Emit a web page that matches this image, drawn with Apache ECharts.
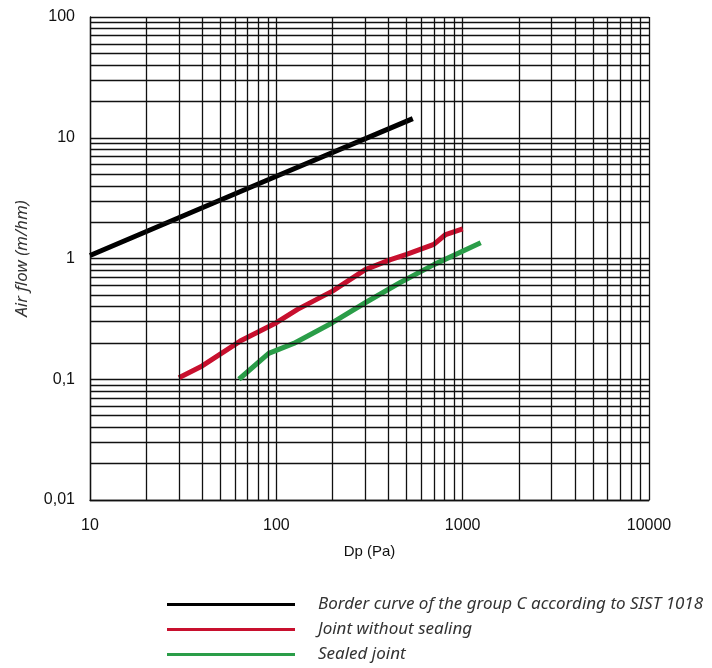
<!DOCTYPE html>
<html>
<head>
<meta charset="utf-8">
<script src="https://cdn.jsdelivr.net/npm/echarts@6/dist/echarts.min.js"></script>
<style>
    html, body { margin: 0; padding: 0; background: #fff; }
    #chart { width: 712px; height: 668px; }
</style>
</head>
<body>
<div id="chart"></div>
<script>
    // series data: [pressure difference (Pa), air flow]
    const borderCurve = [[10, 1.06], [100, 4.8], [540, 14.4]]
    const jointNoSeal = [[30, 0.103], [40, 0.129], [64, 0.207], [100, 0.294], [130, 0.379], [200, 0.537], [300, 0.81], [410, 0.98], [500, 1.08], [700, 1.31], [810, 1.58], [1000, 1.76]]
    const sealedJoint = [[63, 0.1], [91, 0.164], [124, 0.198], [200, 0.294], [300, 0.43], [460, 0.63], [700, 0.89], [1250, 1.35]]
    const seriesNames = ['Border curve of the group C according to SIST 1018', 'Joint without sealing', 'Sealed joint']
    // minor grid values between decades
    const xMinorGrid = [20, 30, 40, 50, 60, 70, 80, 90, 200, 300, 400, 500, 600, 700, 800, 900, 2000, 3000, 4000, 5000, 6000, 7000, 8000, 9000]
    const yMinorGrid = [0.02, 0.03, 0.04, 0.05, 0.06, 0.07, 0.08, 0.09, 0.2, 0.3, 0.4, 0.5, 0.6, 0.7, 0.8, 0.9, 2, 3, 4, 5, 6, 7, 8, 9, 20, 30, 40, 50, 60, 70, 80, 90]

    let gridStyle = { color: '#111', width: 1.3, type: 'solid' }
    let axisFont = { fontFamily: 'Liberation Sans', fontSize: 16, color: '#111' }

    let minorLines = []
    xMinorGrid.forEach(v => minorLines.push({ xAxis: v }))
    yMinorGrid.forEach(v => minorLines.push({ yAxis: v }))

    let myChart = echarts.init(document.getElementById('chart'))
    let option = {
        animation: false,
        grid: { left: 90, right: 63, top: 17, bottom: 168 },
        xAxis: {
            type: 'log',
            logBase: 10,
            min: 10,
            max: 10000,
            name: 'Dp (Pa)',
            nameLocation: 'middle',
            nameGap: 44,
            nameTextStyle: { fontFamily: 'Liberation Sans', fontSize: 15, color: '#111' },
            axisLine: { lineStyle: gridStyle },
            axisTick: { show: false },
            axisLabel: Object.assign({
                margin: 18,
                formatter: function (value) {
                    return String(value)
                }
            }, axisFont),
            splitLine: { show: true, lineStyle: gridStyle }
        },
        yAxis: {
            type: 'log',
            logBase: 10,
            min: 0.01,
            max: 100,
            name: 'Air flow (m/hm)',
            nameLocation: 'middle',
            nameGap: 59,
            nameTextStyle: { fontFamily: 'Noto Sans', fontStyle: 'italic', fontSize: 17, color: '#333' },
            axisLine: { show: true, lineStyle: gridStyle },
            axisTick: { show: false },
            axisLabel: Object.assign({
                margin: 15,
                formatter: function (value) {
                    return String(value).replace('.', ',')
                }
            }, axisFont),
            splitLine: { show: true, lineStyle: gridStyle }
        },
        legend: {
            orient: 'vertical',
            left: 167,
            top: 592,
            height: 80,
            padding: 0,
            icon: 'rect',
            itemWidth: 128,
            itemHeight: 3,
            itemGap: 0,
            data: seriesNames,
            textStyle: {
                fontFamily: 'Noto Sans',
                fontStyle: 'italic',
                fontSize: 17,
                lineHeight: 25,
                color: '#333',
                padding: [0, 0, 0, 18]
            }
        },
        series: [
            {
                name: 'grid',
                type: 'line',
                data: [],
                silent: true,
                markLine: {
                    silent: true,
                    symbol: ['none', 'none'],
                    label: { show: false },
                    lineStyle: gridStyle,
                    data: minorLines
                }
            },
            {
                name: seriesNames[0],
                type: 'line',
                showSymbol: false,
                symbol: 'none',
                color: '#000000',
                lineStyle: { width: 5, color: '#000000' },
                data: borderCurve
            },
            {
                name: seriesNames[1],
                type: 'line',
                showSymbol: false,
                symbol: 'none',
                color: '#c8102e',
                lineStyle: { width: 5, color: '#c8102e' },
                data: jointNoSeal
            },
            {
                name: seriesNames[2],
                type: 'line',
                showSymbol: false,
                symbol: 'none',
                color: '#2a9d48',
                lineStyle: { width: 5, color: '#2a9d48' },
                data: sealedJoint
            }
        ]
    }
    myChart.setOption(option)
</script>
</body>
</html>
